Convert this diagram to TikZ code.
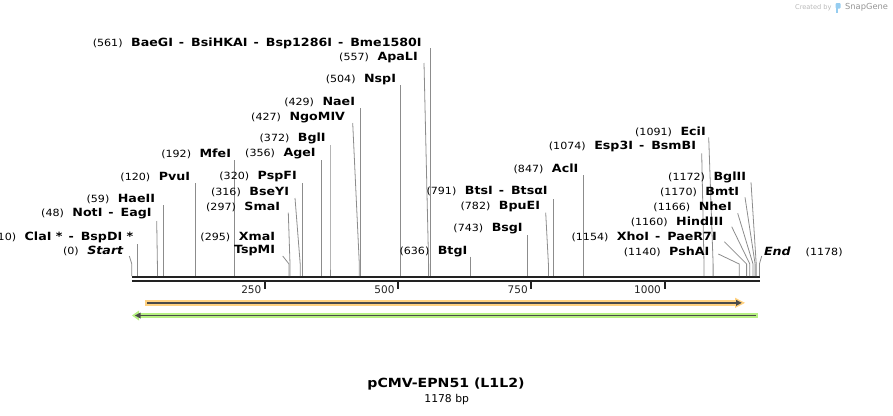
\documentclass[tikz,border=0pt]{standalone}
\usepackage{fontspec}
\setmainfont{DejaVu Sans}
\newfontfamily\wideF[FakeStretch=1.12]{DejaVu Sans}
\definecolor{conncol}{HTML}{8C8C8C}
\definecolor{seqcol}{HTML}{222222}
\definecolor{orfill}{RGB}{255,209,128}
\definecolor{grfill}{RGB}{182,240,130}
\definecolor{featline}{HTML}{4A4A4A}
\definecolor{snapblue}{RGB}{150,205,240}
\tikzset{
  lab/.style={inner sep=0pt, outer sep=0pt, font=\wideF\fontsize{9.9}{12}\selectfont},
  conn/.style={draw=conncol, line width=0.8pt},
  seqline/.style={draw=seqcol, line width=2.3pt},
  tickmark/.style={draw=seqcol, line width=2pt},
  ticklab/.style={inner sep=0pt, anchor=east, font=\fontsize{10.5}{12}\selectfont, text=seqcol},
}
\newcommand\nm[1]{{\wideF\bfseries\fontsize{11.3}{12}\selectfont #1}}
\newcommand\dsep{\hspace{6pt}-\hspace{7pt}}
% id, xend, y, number, names, xtop, ytop, site
\newcommand\enz[8]{%
  \node[lab,anchor=east] (L#1) at (#2,#3) {(#4)\hspace{8.5pt}\nm{#5}};
  \coordinate (T#1) at (#6,#7);
  \coordinate (B#1) at (#8,264);
  \coordinate (S#1) at (#8,276);
  \draw[conn] (T#1) -- (B#1) -- (S#1);
}
\begin{document}
\begin{tikzpicture}[x=1pt,y=-1pt]
\useasboundingbox (0,0) rectangle (893,415);

% sequence
\coordinate (seqL) at (131.8,277.2);
\coordinate (seqR) at (759.6,277.2);
\coordinate (seqL2) at (131.8,281.2);
\coordinate (seqR2) at (759.6,281.2);
\draw[seqline] (seqL) -- (seqR);
\draw[seqline] (seqL2) -- (seqR2);

% ticks
\foreach \t/\tx in {250/265.0,500/398.2,750/531.4,1000/664.6}{
  \coordinate (tk\t) at (\tx,282);
  \coordinate (tb\t) at (\tx,289);
  \draw[tickmark] (tk\t) -- (tb\t);
  \node[ticklab] (tl\t) at (\tx-3.5,289.5) {\t};
}

% enzymes
\enz{a}{421.7}{43.3}{561}{BaeGI\dsep BsiHKAI\dsep Bsp1286I\dsep Bme1580I}{430.7}{48}{430.7}
\enz{b}{417.7}{57.3}{557}{ApaLI}{424}{63}{428.6}
\enz{c}{396}{80}{504}{NspI}{400.3}{85}{400.3}
\enz{d}{355}{101.7}{429}{NaeI}{360.4}{108}{360.4}
\enz{e}{345}{117.3}{427}{NgoMIV}{352.7}{123}{359.3}
\enz{f}{325.7}{138.3}{372}{BglI}{330}{145}{330}
\enz{g}{231}{154}{192}{MfeI}{234.1}{160}{234.1}
\enz{h}{315.7}{154}{356}{AgeI}{321.5}{160}{321.5}
\enz{i}{190}{176.7}{120}{PvuI}{195.7}{183}{195.7}
\enz{j}{296.7}{176.7}{320}{PspFI}{302.3}{183}{302.3}
\enz{k}{289}{192.3}{316}{BseYI}{295}{198}{300.2}
\enz{l}{155}{199.3}{59}{HaeII}{163.2}{205}{163.2}
\enz{m}{280}{206.7}{297}{SmaI}{288.3}{212.7}{290}
\enz{n}{151.7}{214}{48}{NotI\dsep EagI}{156.7}{221}{157.4}
\enz{o}{133.3}{237.3}{10}{ClaI *\dsep BspDI *}{137.1}{244}{137.1}
\enz{p}{123.3}{251}{0}{\itshape Start}{129.3}{256}{131.8}
\enz{r}{467.3}{251.7}{636}{BtgI}{470.7}{256.7}{470.7}
\enz{s}{705.7}{131.7}{1091}{EciI}{708.7}{137.3}{713.1}
\enz{t}{696}{146.7}{1074}{Esp3I\dsep BsmBI}{701.7}{153.3}{704}
\enz{u}{578.3}{169.3}{847}{AclI}{583.1}{175}{583.1}
\enz{v}{547.7}{191}{791}{BtsI\dsep BtsαI}{553.2}{199}{553.2}
\enz{w}{540}{206.7}{782}{BpuEI}{545.7}{212.7}{548.4}
\enz{x}{522.7}{229}{743}{BsgI}{527.7}{235}{527.7}
\enz{y}{746}{177.3}{1172}{BglII}{751}{182.3}{756.2}
\enz{z}{739}{191.7}{1170}{BmtI}{745}{197.3}{755.1}
\enz{aa}{731.7}{207.3}{1166}{NheI}{737.7}{213.3}{753}
\enz{ab}{723.3}{221.7}{1160}{HindIII}{731.7}{226.7}{749.8}
\enz{ac}{716.7}{236.7}{1154}{XhoI\dsep PaeR7I}{724.3}{241.7}{746.6}
\enz{ad}{709.3}{251.7}{1140}{PshAI}{718.3}{254}{739.2}

% XmaI / TspMI
\node[lab,anchor=east] (Lq) at (275,237.3) {(295)\hspace{8.5pt}\nm{XmaI}};
\node[lab,anchor=east] (Lq2) at (275,251) {\nm{TspMI}};
\coordinate (Tq) at (282.7,256);
\coordinate (Bq) at (289,264);
\coordinate (Sq) at (289,276);
\draw[conn] (Tq) -- (Bq) -- (Sq);

% End
\node[lab,anchor=west] (Lend) at (764,251.7) {\nm{\itshape End}\hspace{15pt}(1178)};
\coordinate (Tend) at (761.7,256);
\coordinate (Bend) at (759.4,264);
\coordinate (Send) at (759.4,276);
\draw[conn] (Tend) -- (Bend) -- (Send);

% features
\fill[orfill] (145.3,300) rectangle (735,305.7);
\fill[orfill] (735,297.7) -- (745,302.85) -- (735,308) -- cycle;
\draw[featline, line width=1.3pt] (147,302.85) -- (737,302.85);
\fill[featline] (736,299.8) -- (741.7,302.85) -- (736,305.9) -- cycle;

\fill[grfill] (139,312.7) rectangle (757.7,318.3);
\fill[grfill] (139,310.5) -- (132,315.5) -- (139,320.5) -- cycle;
\draw[featline, line width=1.3pt] (140,315.5) -- (756,315.5);
\fill[featline] (140.5,312.5) -- (135,315.5) -- (140.5,318.5) -- cycle;

% title
\node[inner sep=0pt, font=\wideF\bfseries\fontsize{12.6}{14}\selectfont] (title) at (446,384.3) {pCMV-EPN51 (L1L2)};
\node[inner sep=0pt, font=\fontsize{10.8}{12}\selectfont] (len) at (446.7,399.3) {1178 bp};

% SnapGene credit
\node[inner sep=0pt, anchor=east, text=black!28, font=\fontsize{6.6}{8}\selectfont] (cby) at (831.7,7.7) {Created by};
\fill[snapblue, rounded corners=1pt] (835.5,3) rectangle (840.5,8.5);
\fill[snapblue] (835.5,8) rectangle (837.8,13);
\node[inner sep=0pt, anchor=west, text=black!42, font=\fontsize{8.3}{10}\selectfont] (sgn) at (845,7.7) {SnapGene};
\end{tikzpicture}
\end{document}
